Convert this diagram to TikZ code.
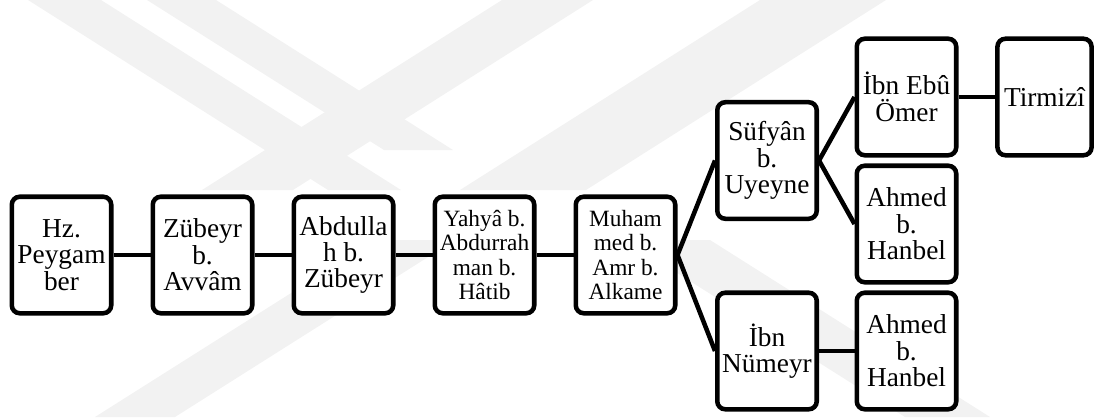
\documentclass[tikz,border=0pt]{standalone}
\usepackage{fontspec}
\setmainfont{Liberation Serif}
\begin{document}
\begin{tikzpicture}[x=0.75pt,y=-0.75pt,
  box/.style={draw=black, fill=white, line width=3.4pt, rounded corners=6pt,
    minimum width=74.6pt, minimum height=87.4pt, inner sep=0pt, align=center,
    font=\fontsize{20.5}{19.8}\selectfont},
  smalltext/.style={font=\fontsize{17.5}{18.2}\selectfont},
  link/.style={line width=3.4pt},
  wm/.style={fill=black!5, draw=none}]
\useasboundingbox (0,0) rectangle (1094,417);
\clip (0,0) rectangle (1094,417);
% faint watermark
\fill[wm] (28,0) -- (101,0) -- (401,190) -- (328,190) -- cycle;
\fill[wm] (147,0) -- (216,0) -- (453,150) -- (384,150) -- cycle;
\fill[wm] (502,0) -- (593,0) -- (293,190) -- (202,190) -- cycle;
\fill[wm] (760,0) -- (886,0) -- (586,190) -- (460,190) -- cycle;
\fill[wm] (95,417) -- (175,417) -- (455,240) -- (375,240) -- cycle;
\fill[wm] (905,417) -- (990,417) -- (710,240) -- (625,240) -- cycle;
% nodes
\node[box] (hz) at (61.5,255) {Hz.\\Peygam\\ber};
\node[box] (zub) at (202.5,255) {Zübeyr\\b.\\Avvâm};
\node[box] (abd) at (343.5,255) {Abdulla\\h b.\\Zübeyr};
\node[box, smalltext] (yah) at (484.5,255) {Yahyâ b.\\Abdurrah\\man b.\\Hâtib};
\node[box, smalltext] (muh) at (625.5,255) {Muham\\med b.\\Amr b.\\Alkame};
\node[box] (suf) at (767,160.5) {Süfyân\\b.\\Uyeyne};
\node[box] (num) at (767,351) {İbn\\Nümeyr};
\node[box] (ebu) at (906.5,97) {İbn Ebû\\Ömer};
\node[box] (ah1) at (906.5,224) {Ahmed\\b.\\Hanbel};
\node[box] (ah2) at (906.5,351) {Ahmed\\b.\\Hanbel};
\node[box, minimum width=70.6pt] (tir) at (1044.5,97) {Tirmizî};
% connectors
\draw[link] (hz.east) -- (zub.west);
\draw[link] (zub.east) -- (abd.west);
\draw[link] (abd.east) -- (yah.west);
\draw[link] (yah.east) -- (muh.west);
\draw[link] (muh.east) -- (suf.west);
\draw[link] (muh.east) -- (num.west);
\draw[link] (suf.east) -- (ebu.west);
\draw[link] (suf.east) -- (ah1.west);
\draw[link] (num.east) -- (ah2.west);
\draw[link] (ebu.east) -- (tir.west);
\end{tikzpicture}
\end{document}
